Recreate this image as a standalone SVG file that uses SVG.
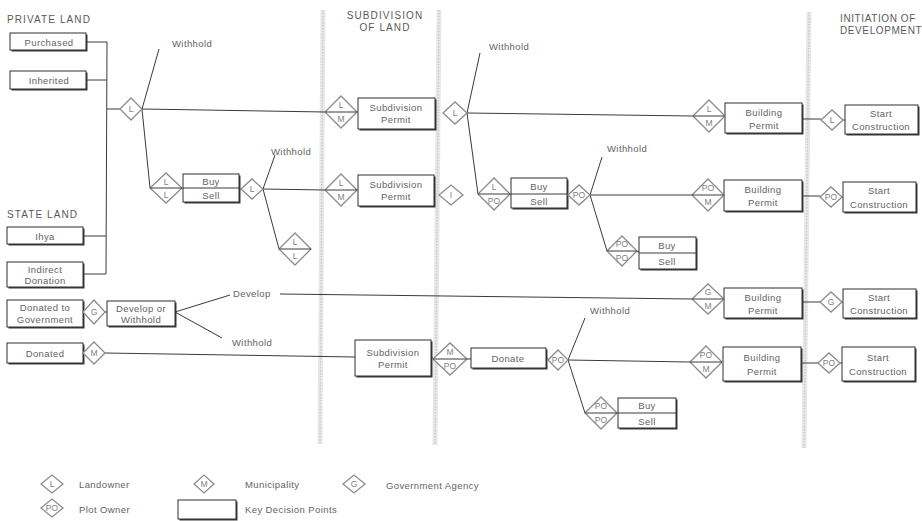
<svg xmlns="http://www.w3.org/2000/svg" width="922" height="521" viewBox="0 0 922 521">
<style>
.bg{fill:#fff}
.band1{stroke:#e8e8e8;stroke-width:5}
.band2{stroke:#cccccc;stroke-width:1.5;stroke-dasharray:1.5 1.5}
.box{fill:#fff;stroke:#2e2e2e;stroke-width:1}
.sh{fill:#3a3a3a}
.ln{stroke:#3a3a3a;stroke-width:1;fill:none}
.dm{fill:#fff;stroke:#8c8c8c;stroke-width:1.3}
.t{font-family:"Liberation Sans",Arial,sans-serif;font-size:9.5px;fill:#636363;letter-spacing:0.4px;dominant-baseline:central}
.c{text-anchor:middle}
.d{font-size:8.5px;fill:#808080;letter-spacing:0}
.h{font-size:10px;letter-spacing:1.1px;fill:#5a5a5a;dominant-baseline:auto}
</style>
<rect class="bg" x="0" y="0" width="922" height="521"/>
<g id="bands">
<line class="band1" x1="323" y1="10" x2="320" y2="444"/>
<line class="band2" x1="323" y1="10" x2="320" y2="444"/>
<line class="band1" x1="439" y1="10" x2="435" y2="445"/>
<line class="band2" x1="439" y1="10" x2="435" y2="445"/>
<line class="band1" x1="809" y1="12" x2="804" y2="448"/>
<line class="band2" x1="809" y1="12" x2="804" y2="448"/>
</g>
<g id="headers">
<text class="t h" x="7" y="23">PRIVATE LAND</text>
<text class="t h" x="7" y="218">STATE LAND</text>
<text class="t h c" x="385" y="19">SUBDIVISION</text>
<text class="t h c" x="385" y="31">OF LAND</text>
<text class="t h" x="840" y="22" style="letter-spacing:0.6px">INITIATION OF</text>
<text class="t h" x="840" y="34" style="letter-spacing:0.6px">DEVELOPMENT</text>
</g>
<g id="connectors">
<path class="ln" d="M86,42 H107 M86,80 H107 M83,236 H106 M83,274 H106 M107,42 L106,274 M107,109 H120"/>
<path class="ln" d="M142,109 L325,112 M142,109 L159,49 M142,109 L150,188 M150,188 L241,189"/>
<path class="ln" d="M263,189 L275,155 M263,189 L325,190 M263,189 L279,249 M279,249 H311"/>
<path class="ln" d="M325,112 H358 M325,190 H358"/>
<path class="ln" d="M467,113 L693,116 M467,113 L480,53 M467,113 L478,194 M478,194 L568,195"/>
<path class="ln" d="M590,195 L602,157 M590,195 L692,195 M590,195 L607,251 M607,251 L696,253"/>
<path class="ln" d="M693,116 H725 M692,195 H724 M802,119 H821 M843,120 H845 M802,196 H820 M842,197 H843"/>
<path class="ln" d="M105,312 H107 M175,312 L230,295 M175,312 L222,338 M280,294 L692,299 M692,299 H724 M802,302 H820 M842,302 H843"/>
<path class="ln" d="M105,353 L355,357 M431,358 H433 M433,359 H467 M467,359 H471 M546,359 H548 M568,360 L585,318 M568,360 L690,362 M690,362 H722 M801,363 H818 M840,363 H842 M568,360 L585,413 M585,413 L676,413"/>
</g>
<g id="labels">
<text class="t" x="172" y="43">Withhold</text>
<text class="t" x="271" y="151">Withhold</text>
<text class="t" x="489" y="46">Withhold</text>
<text class="t" x="607" y="148">Withhold</text>
<text class="t" x="233" y="293">Develop</text>
<text class="t" x="232" y="342">Withhold</text>
<text class="t" x="590" y="310">Withhold</text>
</g>
<g id="n-purchased"><rect class="sh" x="11.5" y="34.5" width="76" height="17"/><rect class="box" x="10" y="33" width="76" height="17"/><text class="t c" x="49" y="42">Purchased</text></g>
<g id="n-inherited"><rect class="sh" x="11.5" y="72.5" width="76" height="18"/><rect class="box" x="10" y="71" width="76" height="18"/><text class="t c" x="49" y="80">Inherited</text></g>
<g id="n-ihya"><rect class="sh" x="8.5" y="228.5" width="76" height="17"/><rect class="box" x="7" y="227" width="76" height="17"/><text class="t c" x="45" y="236">Ihya</text></g>
<g id="n-indirect"><rect class="sh" x="8.5" y="263.5" width="76" height="25"/><rect class="box" x="7" y="262" width="76" height="25"/><text class="t c" x="45" y="269">Indirect</text><text class="t c" x="45" y="280">Donation</text></g>
<g id="n-donatedgov"><rect class="sh" x="8.5" y="301.5" width="76" height="27"/><rect class="box" x="7" y="300" width="76" height="27"/><text class="t c" x="45" y="307">Donated to</text><text class="t c" x="45" y="319">Government</text></g>
<g id="n-devwith"><rect class="sh" x="108.5" y="302.5" width="68" height="25"/><rect class="box" x="107" y="301" width="68" height="25"/><text class="t c" x="141" y="308">Develop or</text><text class="t c" x="141" y="319">Withhold</text></g>
<g id="n-donated"><rect class="sh" x="8.5" y="344.5" width="76" height="20"/><rect class="box" x="7" y="343" width="76" height="20"/><text class="t c" x="45" y="353">Donated</text></g>
<g id="n-buysell1"><rect class="sh" x="184.5" y="175.5" width="56" height="28"/><rect class="box" x="183" y="174" width="56" height="28"/><line class="ln" x1="183" y1="188" x2="239" y2="188"/><text class="t c" x="211" y="181">Buy</text><text class="t c" x="211" y="195">Sell</text></g>
<g id="n-subdiv1"><rect class="sh" x="359.5" y="99.5" width="77" height="31"/><rect class="box" x="358" y="98" width="77" height="31"/><text class="t c" x="396" y="107">Subdivision</text><text class="t c" x="396" y="119">Permit</text></g>
<g id="n-subdiv2"><rect class="sh" x="359.5" y="176.5" width="76" height="31"/><rect class="box" x="358" y="175" width="76" height="31"/><text class="t c" x="396" y="184">Subdivision</text><text class="t c" x="396" y="196">Permit</text></g>
<g id="n-subdiv3"><rect class="sh" x="356.5" y="341.5" width="76" height="36"/><rect class="box" x="355" y="340" width="76" height="36"/><text class="t c" x="393" y="352">Subdivision</text><text class="t c" x="393" y="364">Permit</text></g>
<g id="n-buysell2"><rect class="sh" x="512.5" y="179.5" width="56" height="30"/><rect class="box" x="511" y="178" width="56" height="30"/><line class="ln" x1="511" y1="194" x2="567" y2="194"/><text class="t c" x="539" y="186">Buy</text><text class="t c" x="539" y="201">Sell</text></g>
<g id="n-buysell3"><rect class="sh" x="640.5" y="238.5" width="57" height="32"/><rect class="box" x="639" y="237" width="57" height="32"/><line class="ln" x1="639" y1="253" x2="696" y2="253"/><text class="t c" x="667" y="245">Buy</text><text class="t c" x="667" y="261">Sell</text></g>
<g id="n-donate"><rect class="sh" x="472.5" y="349.5" width="75" height="20"/><rect class="box" x="471" y="348" width="75" height="20"/><text class="t c" x="508" y="358">Donate</text></g>
<g id="n-buysell4"><rect class="sh" x="619.5" y="399.5" width="58" height="30"/><rect class="box" x="618" y="398" width="58" height="30"/><line class="ln" x1="618" y1="413" x2="676" y2="413"/><text class="t c" x="647" y="405">Buy</text><text class="t c" x="647" y="421">Sell</text></g>
<g id="n-build1"><rect class="sh" x="726.5" y="104.5" width="77" height="30"/><rect class="box" x="725" y="103" width="77" height="30"/><text class="t c" x="764" y="112">Building</text><text class="t c" x="764" y="125">Permit</text></g>
<g id="n-build2"><rect class="sh" x="725.5" y="181.5" width="78" height="31"/><rect class="box" x="724" y="180" width="78" height="31"/><text class="t c" x="763" y="189">Building</text><text class="t c" x="763" y="202">Permit</text></g>
<g id="n-build3"><rect class="sh" x="725.5" y="289.5" width="78" height="30"/><rect class="box" x="724" y="288" width="78" height="30"/><text class="t c" x="763" y="297">Building</text><text class="t c" x="763" y="310">Permit</text></g>
<g id="n-build4"><rect class="sh" x="724.5" y="348.5" width="78" height="34"/><rect class="box" x="723" y="347" width="78" height="34"/><text class="t c" x="762" y="357">Building</text><text class="t c" x="762" y="371">Permit</text></g>
<g id="n-start1"><rect class="sh" x="846.5" y="106.5" width="73" height="29"/><rect class="box" x="845" y="105" width="73" height="29"/><text class="t c" x="881" y="113">Start</text><text class="t c" x="881" y="126">Construction</text></g>
<g id="n-start2"><rect class="sh" x="844.5" y="183.5" width="73" height="30"/><rect class="box" x="843" y="182" width="73" height="30"/><text class="t c" x="879" y="190">Start</text><text class="t c" x="879" y="204">Construction</text></g>
<g id="n-start3"><rect class="sh" x="844.5" y="290.5" width="73" height="29"/><rect class="box" x="843" y="289" width="73" height="29"/><text class="t c" x="879" y="297">Start</text><text class="t c" x="879" y="310">Construction</text></g>
<g id="n-start4"><rect class="sh" x="843.5" y="348.5" width="73" height="34"/><rect class="box" x="842" y="347" width="73" height="34"/><text class="t c" x="878" y="357">Start</text><text class="t c" x="878" y="371">Construction</text></g>
<g id="d-l1"><polygon class="dm" points="120,109 131,98 142,109 131,120"/><text class="t c d" x="131" y="109">L</text></g>
<g id="d-l2"><polygon class="dm" points="241,189 252,179 263,189 252,199"/><text class="t c d" x="252" y="189">L</text></g>
<g id="d-l3"><polygon class="dm" points="443,113 455,102 467,113 455,124"/><text class="t c d" x="455" y="113">L</text></g>
<g id="d-i"><polygon class="dm" points="439,195 451,185 463,195 451,205"/><text class="t c d" x="451" y="195">I</text></g>
<g id="d-po1"><polygon class="dm" points="568,195 579,185 590,195 579,205"/><text class="t c d" x="579" y="195">PO</text></g>
<g id="d-l4"><polygon class="dm" points="821,120 832,110 843,120 832,130"/><text class="t c d" x="832" y="120">L</text></g>
<g id="d-po2"><polygon class="dm" points="820,197 831,187 842,197 831,207"/><text class="t c d" x="831" y="197">PO</text></g>
<g id="d-g1"><polygon class="dm" points="820,302 831,292 842,302 831,312"/><text class="t c d" x="831" y="302">G</text></g>
<g id="d-po3"><polygon class="dm" points="818,363 829,353 840,363 829,373"/><text class="t c d" x="829" y="363">PO</text></g>
<g id="d-g0"><polygon class="dm" points="83,312 94,300 105,312 94,324"/><text class="t c d" x="94" y="312">G</text></g>
<g id="d-m0"><polygon class="dm" points="83,353 94,342 105,353 94,364"/><text class="t c d" x="94" y="353">M</text></g>
<g id="d-po4"><polygon class="dm" points="548,360 558,350 568,360 558,370"/><text class="t c d" x="558" y="360">PO</text></g>
<g id="d-ll1"><polygon class="dm" points="150,188 166,173 182,188 166,203"/><line class="ln" x1="150" y1="188" x2="182" y2="188"/><text class="t c d" x="166" y="182">L</text><text class="t c d" x="166" y="195">L</text></g>
<g id="d-ll2"><polygon class="dm" points="279,249 295,233 311,249 295,265"/><line class="ln" x1="279" y1="249" x2="311" y2="249"/><text class="t c d" x="295" y="242">L</text><text class="t c d" x="295" y="256">L</text></g>
<g id="d-lm1"><polygon class="dm" points="325,112 341,96 357,112 341,128"/><line class="ln" x1="325" y1="112" x2="357" y2="112"/><text class="t c d" x="341" y="105">L</text><text class="t c d" x="341" y="119">M</text></g>
<g id="d-lm2"><polygon class="dm" points="325,190 341,174 357,190 341,206"/><line class="ln" x1="325" y1="190" x2="357" y2="190"/><text class="t c d" x="341" y="183">L</text><text class="t c d" x="341" y="197">M</text></g>
<g id="d-lpo"><polygon class="dm" points="478,194 494,178 510,194 494,210"/><line class="ln" x1="478" y1="194" x2="510" y2="194"/><text class="t c d" x="494" y="187">L</text><text class="t c d" x="494" y="201">PO</text></g>
<g id="d-popo1"><polygon class="dm" points="607,251 622,236 637,251 622,266"/><line class="ln" x1="607" y1="251" x2="637" y2="251"/><text class="t c d" x="622" y="244">PO</text><text class="t c d" x="622" y="258">PO</text></g>
<g id="d-lm3"><polygon class="dm" points="693,116 709,100 725,116 709,132"/><line class="ln" x1="693" y1="116" x2="725" y2="116"/><text class="t c d" x="709" y="109">L</text><text class="t c d" x="709" y="123">M</text></g>
<g id="d-pom1"><polygon class="dm" points="692,195 708,179 724,195 708,211"/><line class="ln" x1="692" y1="195" x2="724" y2="195"/><text class="t c d" x="708" y="188">PO</text><text class="t c d" x="708" y="202">M</text></g>
<g id="d-gm"><polygon class="dm" points="692,299 708,284 724,299 708,314"/><line class="ln" x1="692" y1="299" x2="724" y2="299"/><text class="t c d" x="708" y="292">G</text><text class="t c d" x="708" y="306">M</text></g>
<g id="d-mpo"><polygon class="dm" points="433,359 450,343 467,359 450,375"/><line class="ln" x1="433" y1="359" x2="467" y2="359"/><text class="t c d" x="450" y="352">M</text><text class="t c d" x="450" y="366">PO</text></g>
<g id="d-pom2"><polygon class="dm" points="690,362 706,346 722,362 706,378"/><line class="ln" x1="690" y1="362" x2="722" y2="362"/><text class="t c d" x="706" y="355">PO</text><text class="t c d" x="706" y="369">M</text></g>
<g id="d-popo2"><polygon class="dm" points="585,413 601,397 617,413 601,429"/><line class="ln" x1="585" y1="413" x2="617" y2="413"/><text class="t c d" x="601" y="406">PO</text><text class="t c d" x="601" y="420">PO</text></g>
<g id="legend">
<polygon class="dm" points="41,484 52,475 63,484 52,493"/><text class="t c d" x="52" y="484">L</text>
<text class="t" x="79" y="484">Landowner</text>
<polygon class="dm" points="41,508 52,499 63,508 52,517"/><text class="t c d" x="52" y="508">PO</text>
<text class="t" x="79" y="509">Plot Owner</text>
<polygon class="dm" points="194,484 204,475 214,484 204,493"/><text class="t c d" x="204" y="484">M</text>
<text class="t" x="245" y="484">Municipality</text>
<polygon class="dm" points="343,484 354,475 365,484 354,493"/><text class="t c d" x="354" y="484">G</text>
<text class="t" x="386" y="485">Government Agency</text>
<rect class="sh" x="179.5" y="501.5" width="58" height="19"/><rect class="box" x="178" y="500" width="58" height="19"/>
<text class="t" x="245" y="509">Key Decision Points</text>
</g>
</svg>
